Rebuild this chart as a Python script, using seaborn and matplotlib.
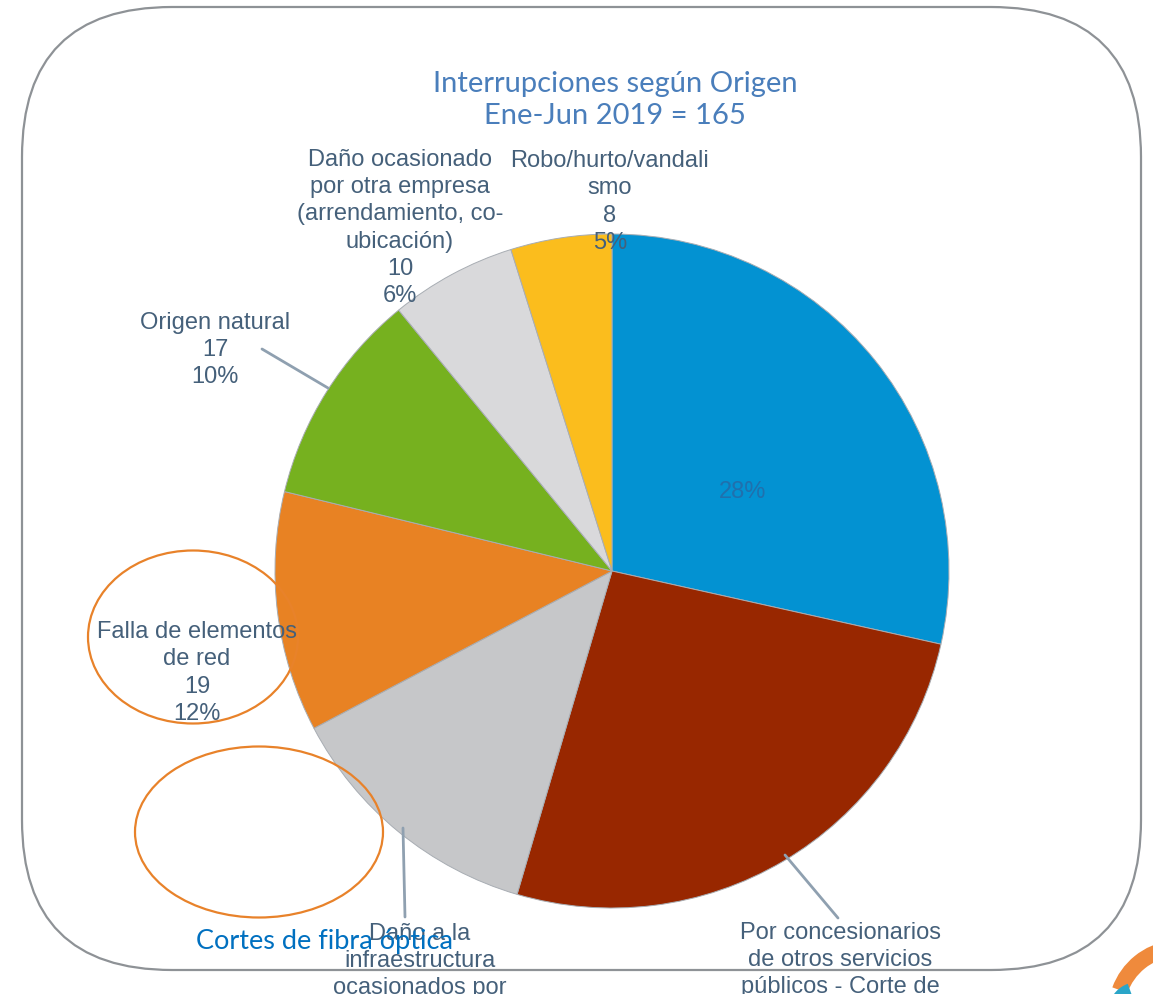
import matplotlib
matplotlib.use("Agg")
import matplotlib.pyplot as plt
from matplotlib.patches import FancyBboxPatch, Ellipse, Wedge
import seaborn as sns

# data - clockwise from 12 o'clock
values = [47, 43, 21, 19, 17, 10, 8]
labels = [
    "",
    "Por concesionarios\nde otros servicios\npúblicos - Corte de",
    "Daño a la\ninfraestructura\nocasionados por",
    "Falla de elementos\nde red",
    "Origen natural",
    "Daño ocasionado\npor otra empresa\n(arrendamiento, co-\nubicación)",
    "Robo/hurto/vandali\nsmo",
]
colors = ["#0392d2", "#982700", "#c6c7c9", "#e88223", "#76b11f", "#d9d9db", "#fbbd1d"]
title = "Interrupciones según Origen\nEne-Jun 2019 = 165"
note = "Cortes de fibra óptica"

total = sum(values)
pcts = [f"{v / total:.0%}" for v in values]

sns.set_theme(style="white")
plt.rcParams["font.family"] = ["Liberation Sans", "DejaVu Sans"]

fig = plt.figure(figsize=(11.53, 9.94), dpi=100)
ax = fig.add_axes([0, 0, 1, 1])

# pie in pixel-like coords (y inverted, so counterclock=True looks clockwise)
ax.pie(values, colors=colors, startangle=-90, counterclock=True,
       center=(612, 571), radius=337,
       wedgeprops=dict(edgecolor="#a8adb3", linewidth=0.7))
ax.set_xlim(0, 1153)
ax.set_ylim(994, 0)
ax.set_aspect("equal")
ax.axis("off")

# rounded slide frame
frame = FancyBboxPatch((22 + 150, 7 + 150), 1119 - 300, 963 - 300,
                       boxstyle="round,pad=150", facecolor="none",
                       edgecolor="#8e9296", linewidth=1.6, zorder=5)
ax.add_patch(frame)

lab_col = "#45607a"
fs = 17

# label layout: (x, y, va) per slice
layout = [None, (840, 922, "top"), (420, 923, "top"), (197, 673, "center"),
          (215, 350, "center"), (400, 228, "center"), (610, 202, "center")]
leaders = {1: [(785, 855), (838, 918)], 2: [(403, 828), (405, 917)],
           4: [(262, 349), (328, 388)]}

for i, (lab, pos) in enumerate(zip(labels, layout)):
    if pos is None:
        continue
    x, y, va = pos
    txt = lab if i in (1, 2) else f"{lab}\n{values[i]}\n{pcts[i]}"
    ax.text(x, y, txt, ha="center", va=va, fontsize=fs, color=lab_col,
            linespacing=1.3, zorder=4)

for seg in leaders.values():
    (x0, y0), (x1, y1) = seg
    ax.plot([x0, x1], [y0, y1], color="#8fa0b0", lw=2, zorder=3)

# percentage inside the big slice
ax.text(743, 492, pcts[0], ha="center", va="center", fontsize=fs,
        color="#2070ad", zorder=4)

ax.text(615, 100, title, ha="center", va="center", fontsize=21,
        color="#4a7ebb", family=["Lato", "DejaVu Sans"], linespacing=1.25, zorder=6)

# highlight ellipses
ax.add_patch(Ellipse((193, 637), 210, 173, facecolor="none", edgecolor="#e8822a", lw=1.6, zorder=6))
ax.add_patch(Ellipse((259, 832), 248, 171, facecolor="none", edgecolor="#e8822a", lw=1.6, zorder=6))

ax.text(325, 942, note, ha="center", va="center", fontsize=19.5,
        color="#0070c0", family=["Lato", "DejaVu Sans"], zorder=7)

# logo fragment in the corner
ax.add_patch(Wedge((1180, 1012), 72, 200, 262, width=16, facecolor="#ef8a3c", edgecolor="none", zorder=6))
ax.add_patch(Wedge((1138, 1012), 30, 195, 250, width=11, facecolor="#2aa5c8", edgecolor="none", zorder=6))

fig.savefig("out.png", dpi=100)
